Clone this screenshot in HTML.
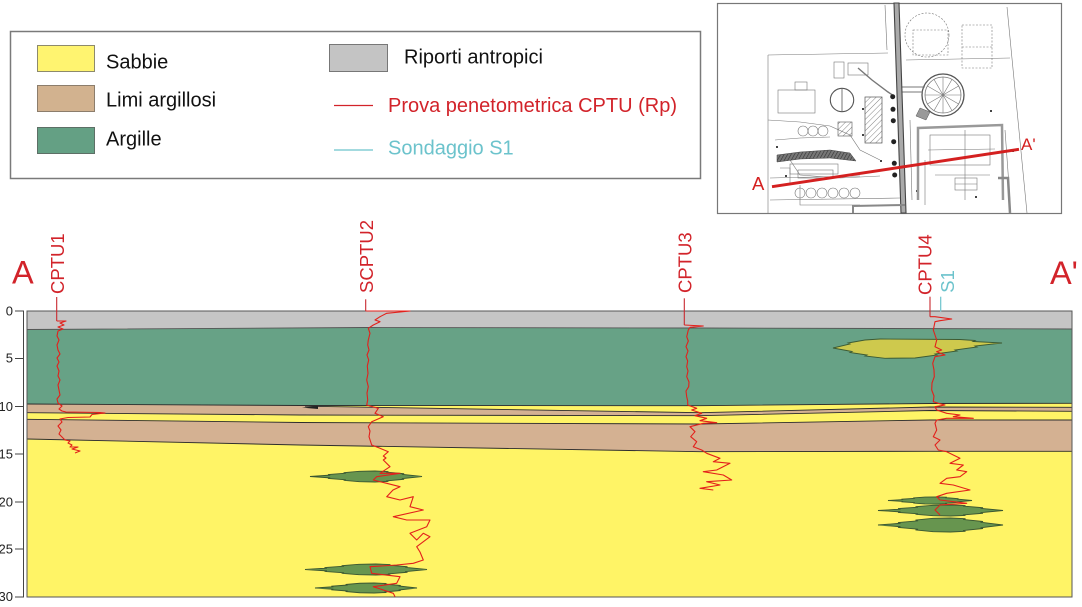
<!DOCTYPE html>
<html>
<head>
<meta charset="utf-8">
<style>
html,body{margin:0;padding:0;background:#fff;}
svg{display:block;font-family:"Liberation Sans",Arial,sans-serif;}
</style>
</head>
<body>
<svg width="1082" height="607" viewBox="0 0 1082 607" xmlns="http://www.w3.org/2000/svg">
<defs>
<pattern id="hatch" width="4" height="4" patternUnits="userSpaceOnUse" patternTransform="rotate(45)">
<line x1="0" y1="0" x2="0" y2="4" stroke="#666" stroke-width="0.8"/>
</pattern>
<pattern id="dark" width="3" height="3" patternUnits="userSpaceOnUse" patternTransform="rotate(30)">
<rect width="3" height="3" fill="#777"/>
<line x1="0" y1="0" x2="0" y2="3" stroke="#333" stroke-width="1.2"/>
</pattern>
</defs>
<rect width="1082" height="607" fill="#fff"/>

<!-- LEGEND -->
<rect x="10.5" y="31.5" width="690" height="147" fill="#fff" stroke="#7a7a7a" stroke-width="1.5"/>
<rect x="37.5" y="45.5" width="57" height="26" fill="#fff470" stroke="#8d8a6c" stroke-width="1"/>
<rect x="37.5" y="85.5" width="57" height="26" fill="#d2b28f" stroke="#8c7d6c" stroke-width="1"/>
<rect x="37.5" y="127.5" width="57" height="26" fill="#64a084" stroke="#5d6f66" stroke-width="1"/>
<rect x="329.5" y="44.5" width="58" height="27" fill="#c4c4c4" stroke="#777" stroke-width="1"/>
<g font-size="20" fill="#111">
<text x="106" y="68.5">Sabbie</text>
<text x="106" y="106.5">Limi argillosi</text>
<text x="106" y="145.5">Argille</text>
<text x="404" y="63.5">Riporti antropici</text>
</g>
<line x1="334" y1="105.5" x2="373" y2="105.5" stroke="#d2232a" stroke-width="1.2"/>
<text x="388" y="112" font-size="20" fill="#d2232a">Prova penetometrica CPTU (Rp)</text>
<line x1="334" y1="150" x2="373" y2="150" stroke="#6cc3cc" stroke-width="1.2"/>
<text x="388" y="154.5" font-size="20" fill="#6cc3cc">Sondaggio S1</text>

<!-- MAP INSET -->
<rect x="717.5" y="3.5" width="344" height="210" fill="#fff" stroke="#777" stroke-width="1.2"/>
<g fill="none" stroke="#777" stroke-width="0.6">
<polyline points="768,55 888,53"/>
<polyline points="768,55 768,213"/>
<polyline points="768,120 800,122 830,126 850,135 860,150 880,160"/>
<polyline points="1007,7 1027,213"/>
<polyline points="906,60 1010,58"/>
<polyline points="790,160 800,175 840,178 880,176"/>
<polyline points="770,178 860,176"/>
<polyline points="770,200 900,198"/>
<polyline points="775,140 800,138 830,137"/>
<polyline points="780,168 790,168 790,185"/>
<polyline points="885,5 887,50"/>
<polyline points="910,120 912,200"/>
<polyline points="1005,130 1010,200"/>
<polyline points="935,175 990,175"/>
<polyline points="925,160 925,205"/>
<polyline points="800,185 800,205 860,205"/>
<rect x="778" y="90" width="37" height="23"/>
<rect x="795" y="82" width="12" height="8"/>
<rect x="834" y="62" width="10" height="16"/>
<rect x="848" y="63" width="20" height="12"/>
<rect x="798" y="170" width="35" height="8"/>
<circle cx="927" cy="35" r="22" stroke-dasharray="2 1.5"/>
<rect x="913" y="30" width="35" height="25" stroke-dasharray="2 1.5"/>
<rect x="962" y="25" width="30" height="43" stroke-dasharray="2 1.5"/>
<line x1="962" y1="47" x2="992" y2="47" stroke-dasharray="2 1.5"/>
<circle cx="943" cy="95" r="21" stroke-width="1.3" stroke="#555"/>
<circle cx="943" cy="95" r="18" stroke-width="0.8"/>
<line x1="925" y1="95" x2="961" y2="95"/>
<line x1="927.4" y1="86" x2="958.6" y2="104"/>
<line x1="934" y1="79.4" x2="952" y2="110.6"/>
<line x1="943" y1="77" x2="943" y2="113"/>
<line x1="952" y1="79.4" x2="934" y2="110.6"/>
<line x1="958.6" y1="86" x2="927.4" y2="104"/>
<line x1="902" y1="87" x2="925" y2="87" stroke-width="1"/>
<line x1="902" y1="92" x2="923" y2="92" stroke-width="1"/>
<polyline points="858,68 872,80 888,92 894,96" stroke-width="1.4"/>
<circle cx="842" cy="100" r="11.7" stroke-width="1.1" stroke="#555"/>
<line x1="842" y1="89" x2="842" y2="111" stroke-width="1"/>
<circle cx="803" cy="131" r="5"/>
<circle cx="813" cy="131" r="5"/>
<circle cx="823" cy="131" r="5"/>
<circle cx="800" cy="193" r="5"/>
<circle cx="811" cy="193" r="5"/>
<circle cx="822" cy="193" r="5"/>
<circle cx="833" cy="193" r="5"/>
<circle cx="844" cy="193" r="5"/>
<circle cx="855" cy="193" r="5"/>
<rect x="790" y="164" width="48" height="10"/>
<rect x="930" y="135" width="60" height="30"/>
<line x1="928" y1="150" x2="995" y2="149"/>
<line x1="965" y1="130" x2="965" y2="200"/>
<rect x="955" y="178" width="22" height="12"/>
<line x1="955" y1="184" x2="977" y2="184"/>
</g>
<g fill="#444">
<rect x="776" y="146" width="2" height="2"/><rect x="862" y="108" width="2" height="2"/>
<rect x="862" y="134" width="2" height="2"/><rect x="880" y="160" width="2" height="2"/>
<rect x="990" y="110" width="2" height="2"/><rect x="1012" y="150" width="2" height="2"/>
<rect x="975" y="196" width="2" height="2"/><rect x="916" y="190" width="2" height="2"/>
<rect x="785" y="175" width="2" height="2"/><rect x="808" y="152" width="2" height="2"/>
</g>
<rect x="865" y="97" width="17" height="46" fill="url(#hatch)" stroke="#555" stroke-width="0.7"/>
<rect x="838" y="122" width="14" height="14" fill="url(#hatch)" stroke="#555" stroke-width="0.6"/>
<polygon points="894,3 899,3 906,213 901,213" fill="#aaa" stroke="#444" stroke-width="1.1"/>
<polygon points="777,155 800,152 830,150 850,153 856,161 830,158 800,159 777,162" fill="url(#dark)" stroke="#444" stroke-width="0.5"/>
<polyline points="918,200 918,128 1002,125 1003,200" fill="none" stroke="#999" stroke-width="2.5"/>
<polyline points="853,213 853,206 905,205" fill="none" stroke="#888" stroke-width="2"/>
<polyline points="998,178 1008,178 1010,213" fill="none" stroke="#888" stroke-width="2.5"/>
<polygon points="920,108 930,112 926,120 916,116" fill="#999" stroke="#555" stroke-width="0.5"/>
<g fill="#222">
<circle cx="892.7" cy="96.7" r="2.5"/>
<circle cx="893" cy="109.3" r="2.5"/>
<circle cx="893.3" cy="120.7" r="2.5"/>
<circle cx="893.7" cy="141.7" r="2.5"/>
<circle cx="894.3" cy="163.3" r="2.5"/>
<circle cx="894.7" cy="175" r="2.5"/>
</g>
<line x1="772" y1="186.7" x2="1019" y2="149.3" stroke="#d42020" stroke-width="3"/>
<text x="752" y="190" font-size="18.5" fill="#d42020">A</text>
<text x="1021" y="150" font-size="17" fill="#d42020">A'</text>

<!-- SECTION -->
<text x="12" y="283.5" font-size="32.5" fill="#d2232a">A</text>
<text x="1050" y="284" font-size="32.5" fill="#d2232a">A'</text>

<!-- depth axis -->
<g font-size="13" fill="#222" text-anchor="end">
<text x="13" y="315.5">0</text>
<text x="13" y="362.5">5</text>
<text x="13" y="411">10</text>
<text x="13" y="458.5">15</text>
<text x="13" y="506.5">20</text>
<text x="13" y="553.5">25</text>
<text x="13" y="601">30</text>
</g>
<g stroke="#444" stroke-width="1">
<line x1="23.5" y1="311" x2="23.5" y2="597"/>
<line x1="15" y1="311" x2="24" y2="311"/>
<line x1="15" y1="358.5" x2="24" y2="358.5"/>
<line x1="15" y1="406.5" x2="24" y2="406.5"/>
<line x1="15" y1="454" x2="24" y2="454"/>
<line x1="15" y1="502" x2="24" y2="502"/>
<line x1="15" y1="549" x2="24" y2="549"/>
<line x1="15" y1="597" x2="24" y2="597"/>
</g>

<!-- layers -->
<rect x="27" y="311" width="1045" height="286" fill="#fff466"/>
<polygon points="27,404 300,405.5 700,405.7 930,403.5 1072,403.3 1072,451.3 930,451.3 700,451.7 300,445 27,439" fill="#d4b192"/>
<polygon points="27,412.7 300,415 700,415.7 930,410.5 1072,411.3 1072,420 930,420 700,424 300,422.5 27,419.3" fill="#fff466"/>
<polygon points="305,405.6 700,405.7 930,403.5 1072,403.3 1072,407.3 930,407 700,412.7 305,406.2" fill="#fff466"/>
<polygon points="27,329.5 365,327.5 700,328 1072,329 1072,403.3 930,403.5 700,405.7 300,405.5 27,404" fill="#67a286"/>
<polygon points="27,311 1072,311 1072,329 700,328 365,327.5 27,329.5" fill="#c5c5c5"/>
<g fill="none" stroke="#2d2d2d" stroke-width="0.9">
<polyline points="27,329.5 365,327.5 700,328 1072,329" stroke="#555"/>
<polyline points="27,404 300,405.5 700,405.7 930,403.5 1072,403.3"/>
<polyline points="305,406.2 700,412.7 930,407 1072,407.3"/>
<polyline points="27,412.7 300,415 700,415.7 930,410.5 1072,411.3"/>
<polyline points="27,419.3 300,422.5 700,424 930,420 1072,420"/>
<polyline points="27,439 300,445 700,451.7 930,451.3 1072,451.3"/>
</g>
<polygon points="302,407.6 318,406 318,409 " fill="#222"/>

<!-- yellow lens in clay -->
<path d="M833,348 L850,344 L848,343 L865,340 L880,339 L960,339.5 L975,340.5 L973,341.5 L1002,343 L975,346 L977,347 L955,350 L957,351 L935,354 L937,355 L915,358 L885,358.3 L865,356 L867,355 L850,352.5 L852,351.5 Z" fill="#cec94d" stroke="#3c5a33" stroke-width="0.9"/>

<!-- green lenses in sand -->
<g fill="#67954f" stroke="#3a5631">
<path vector-effect="non-scaling-stroke" stroke-width="0.9" transform="translate(310,476.5) scale(1.12,0.55)" d="M0,0 L18,-2.5 L16,-3.5 L32,-6 L30,-7 L44,-9.5 L58,-10 L70,-9 L68,-8 L84,-5 L82,-4 L100,0 L82,4 L84,5 L68,8 L70,9 L58,10 L44,9.5 L30,7 L32,6 L16,3.5 L18,2.5 Z"/>
<path vector-effect="non-scaling-stroke" stroke-width="0.9" transform="translate(305,569.5) scale(1.22,0.55)" d="M0,0 L18,-2.5 L16,-3.5 L32,-6 L30,-7 L44,-9.5 L58,-10 L70,-9 L68,-8 L84,-5 L82,-4 L100,0 L82,4 L84,5 L68,8 L70,9 L58,10 L44,9.5 L30,7 L32,6 L16,3.5 L18,2.5 Z"/>
<path vector-effect="non-scaling-stroke" stroke-width="0.9" transform="translate(315,588) scale(1.02,0.5)" d="M0,0 L18,-2.5 L16,-3.5 L32,-6 L30,-7 L44,-9.5 L58,-10 L70,-9 L68,-8 L84,-5 L82,-4 L100,0 L82,4 L84,5 L68,8 L70,9 L58,10 L44,9.5 L30,7 L32,6 L16,3.5 L18,2.5 Z"/>
<path vector-effect="non-scaling-stroke" stroke-width="0.9" transform="translate(888,500.5) scale(0.84,0.36)" d="M0,0 L18,-2.5 L16,-3.5 L32,-6 L30,-7 L44,-9.5 L58,-10 L70,-9 L68,-8 L84,-5 L82,-4 L100,0 L82,4 L84,5 L68,8 L70,9 L58,10 L44,9.5 L30,7 L32,6 L16,3.5 L18,2.5 Z"/>
<path vector-effect="non-scaling-stroke" stroke-width="0.9" transform="translate(878,510.5) scale(1.25,0.55)" d="M0,0 L18,-2.5 L16,-3.5 L32,-6 L30,-7 L44,-9.5 L58,-10 L70,-9 L68,-8 L84,-5 L82,-4 L100,0 L82,4 L84,5 L68,8 L70,9 L58,10 L44,9.5 L30,7 L32,6 L16,3.5 L18,2.5 Z"/>
<path vector-effect="non-scaling-stroke" stroke-width="0.9" transform="translate(878,525) scale(1.25,0.7)" d="M0,0 L18,-2.5 L16,-3.5 L32,-6 L30,-7 L44,-9.5 L58,-10 L70,-9 L68,-8 L84,-5 L82,-4 L100,0 L82,4 L84,5 L68,8 L70,9 L58,10 L44,9.5 L30,7 L32,6 L16,3.5 L18,2.5 Z"/>
</g>

<rect x="27" y="311" width="1045" height="286" fill="none" stroke="#555" stroke-width="1"/>

<!-- probe labels -->
<g font-size="18.5" fill="#d2232a">
<text transform="translate(64,294) rotate(-90)">CPTU1</text>
<text transform="translate(373,293) rotate(-90)">SCPTU2</text>
<text transform="translate(691.5,293) rotate(-90)">CPTU3</text>
<text transform="translate(931.5,295) rotate(-90)">CPTU4</text>
</g>
<text transform="translate(954,292.7) rotate(-90)" font-size="18.5" fill="#6cc3cc">S1</text>
<line x1="940.7" y1="296.7" x2="940.7" y2="311.5" stroke="#6cc3cc" stroke-width="1.2"/>

<!-- traces -->
<g fill="none" stroke="#e3201b" stroke-width="1.1" stroke-linejoin="round">
<polyline stroke="#c8282e" points="56.7,297 56.7,321"/>
<polyline points="56.7,321 66,321 60,323 64,325 58,327 63,329 58,331 57,336 59,340 57,345 58,350 60,354 57,358 59,362 57,366 59,371 58,376 60,380 58,385 59,390 60,395 57,399 58,403 62,406 59,409 62,411 66,412 100,412.5 105,413 92,414.5 90,417 68,417.5 60,419 62,422 58,426 61,430 59,434 62,437 65,440 70,441 68,443 72,445 70,447 78,447 72,449 80,451 75,453"/>

<polyline stroke="#c8282e" points="365.7,299.3 365.7,311"/>
<polyline points="365.7,311 410,311 386.7,313.3 380,316.7 375,320 380,321.7 373.3,325 368.3,328.3 370,333.3 368.3,340 367.7,345 369,350 367,355 368.7,360 367.3,366 368,373.3 366.7,380 368.3,386.7 367,393 367.7,400 366.7,405 378.3,408.3 375,413.3 383.3,416.7 371.7,421.7 368.3,426.7 370,431 369,436.7 371.7,445 380,448.3 388.3,451.7 383.3,456 386,458 383.3,460 390,466.7 380,473.3 400,473.3 376.7,476.7 373.3,480 386.7,483.3 400,486.7 393,490 386.7,496.7 400,500 413.3,496.7 410,506.7 423.3,510 393.3,516.7 406.7,520 430,520 426.7,526.7 410,533.3 416.7,540 423.3,533.3 430,536.7 416.7,546.7 420,552 423.3,560 413.3,563.3 396.7,565 370,566.7 371.7,573.3 400,576.7 396.7,583.3 373.3,586.7 393.3,593.3 395,596.7"/>

<polyline stroke="#c8282e" points="684.3,298.3 684.3,325"/>
<polyline points="684.3,325 703.3,326 690,327.3 688.3,330 686.7,336.7 688.3,341 686,346.7 688,351 686,356.7 687.7,361 686.7,366.7 688,371 686.7,376.7 689,382 688.7,386.7 686,391 686.7,396.7 687.7,401 687.7,405 696.7,408.3 691.7,410 701.7,413.3 695,415.7 706.7,418.3 700,420.7 716.7,422.7 703.3,423.3 690,426.7 695,431.7 690.7,436.7 696.7,441.7 693.3,446.7 701.7,450 706.7,453.3 720,458.3 713.3,461.7 730,463.3 716.7,470 703.3,471.7 723.3,475 731.7,480 706.7,481.7 720,485 700,488.3 713.3,490"/>

<polyline stroke="#c8282e" points="930,296.7 930,316.7"/>
<polyline points="930,316.7 935,316.7 951.7,319 940,320.7 935,321.7 933.3,330 935,335 936.7,340 935,346.7 941.7,350 936.7,351.7 945,355 935,356.7 932.7,363.3 934,370 934.3,376.7 932,383 931.7,390 934,396 933.3,401.7 938.3,403.3 945,405 935,406.7 936.7,410 946.7,413.3 960,415 953.3,416.7 973.3,418.3 946.7,418.3 936.7,420 935,423.3 936.7,430 933.3,436.7 940,440 935,445 938.3,450 946.7,451.7 953.3,455 960,458.3 950,463.3 963.3,465 956.7,470 966.7,471.7 960,476.7 946.7,478.3 940,483.3 953.3,485 970,490 946.7,493.3 936.7,496.7 940,500 966.7,503.3 940,505 935,510 940,515"/>
</g>
</svg>
</body>
</html>
